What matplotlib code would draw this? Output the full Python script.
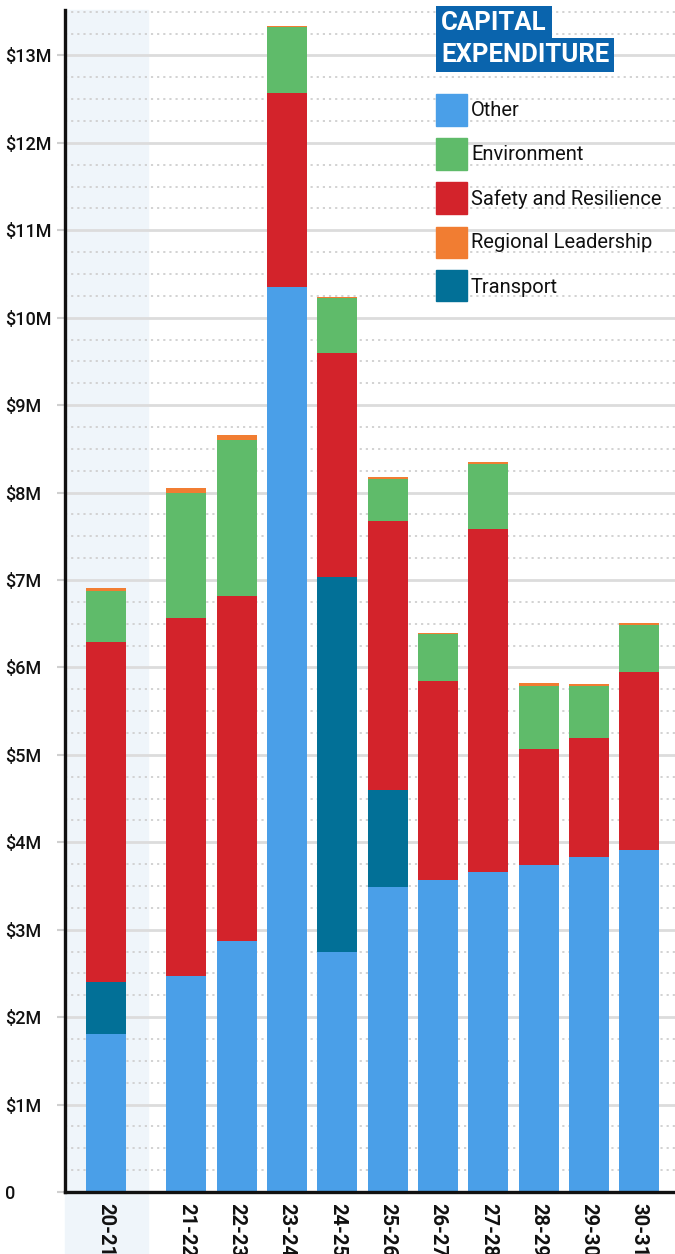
import numpy as np
import matplotlib
matplotlib.use("Agg")
import matplotlib.pyplot as plt
from matplotlib.patches import Rectangle
from matplotlib.transforms import blended_transform_factory

# values in $M, stacked bottom to top: other, transport, safety, environment, regional
years = ["20-21", "21-22", "22-23", "23-24", "24-25", "25-26",
         "26-27", "27-28", "28-29", "29-30", "30-31"]
other = [1.81, 2.47, 2.87, 10.35, 2.74, 3.49, 3.57, 3.66, 3.74, 3.83, 3.91]
transport = [0.59, 0, 0, 0, 4.29, 1.11, 0, 0, 0, 0, 0]
safety = [3.89, 4.09, 3.95, 2.22, 2.57, 3.07, 2.28, 3.92, 1.33, 1.36, 2.04]
environment = [0.58, 1.43, 1.78, 0.75, 0.63, 0.48, 0.53, 0.75, 0.72, 0.60, 0.54]
regional = [0.035, 0.057, 0.057, 0.015, 0.008, 0.023, 0.015, 0.023, 0.03, 0.02, 0.023]

series = [("Other", other, "#4a9fe8"),
          ("Transport", transport, "#027097"),
          ("Safety and Resilience", safety, "#d3232b"),
          ("Environment", environment, "#5fbb6a"),
          ("Regional Leadership", regional, "#f17d32")]
legend_order = ["Other", "Environment", "Safety and Resilience",
                "Regional Leadership", "Transport"]

plt.rcParams["font.family"] = ["Roboto", "DejaVu Sans"]

W, H = 675, 1254
fig = plt.figure(figsize=(W / 100, H / 100), dpi=100)
ax = fig.add_axes([65 / W, (H - 1192) / H, 1 - 65 / W, (1192 - 10) / H])

# first year sits apart from the rest
x = np.r_[0.0, np.arange(1, len(years)) + 0.6]

# highlighted column for 20-21, running down through the tick labels
tr = blended_transform_factory(ax.transData, ax.transAxes)
ax.add_patch(Rectangle((-0.82, -0.06), 1.66, 1.06, transform=tr,
                       color="#eff5fa", zorder=0, clip_on=False))

bottom = np.zeros(len(years))
for name, vals, col in series:
    vals = np.array(vals)
    ax.bar(x, vals, width=0.795, bottom=bottom, color=col, zorder=3, linewidth=0)
    bottom += vals

ax.set_xlim(-0.815, 11.31)
ax.set_ylim(0, 13.52)

# grid: solid every $1M, dotted every $0.25M
ax.set_yticks(np.arange(0, 14))
ax.set_yticks(np.arange(0, 13.6, 0.25), minor=True)
ax.grid(axis="y", which="major", color="#dcdcdc", linewidth=2, zorder=1)
ax.grid(axis="y", which="minor", color="#cfcfcf", linewidth=1.3,
        linestyle=(0, (1.2, 2.2)), zorder=1)
ax.set_axisbelow(True)

ax.set_yticklabels(["0"] + [f"${v}M" for v in range(1, 14)])
ax.tick_params(axis="y", which="major", length=6, width=1.5, color="#d0d0d0",
               pad=37.4, labelsize=13, labelcolor="#111111")
ax.tick_params(axis="y", which="minor", length=0)
for lab in ax.get_yticklabels():
    lab.set_horizontalalignment("left")
    lab.set_fontweight("medium")

ax.set_xticks(x)
ax.set_xticklabels(years, rotation=-90, va="top", ha="center",
                   fontsize=14.5, fontweight="bold", color="#111111")
ax.tick_params(axis="x", length=0, pad=8)

for s in ["top", "right"]:
    ax.spines[s].set_visible(False)
for s in ["left", "bottom"]:
    ax.spines[s].set_linewidth(2.4)
    ax.spines[s].set_color("#111111")
    ax.spines[s].set_zorder(4)

# title blocks
fig.text(441 / W, 1 - 23 / H, "CAPITAL", fontsize=18.5, fontweight="bold",
         color="white", va="center", ha="left",
         bbox=dict(boxstyle="square,pad=0.2", fc="#0a64ad", ec="none"))
fig.text(441 / W, 1 - 55 / H, "EXPENDITURE", fontsize=18.5, fontweight="bold",
         color="white", va="center", ha="left",
         bbox=dict(boxstyle="square,pad=0.2", fc="#0a64ad", ec="none"))

# legend
colors = {name: col for name, _, col in series}
for i, name in enumerate(legend_order):
    yc = 110 + 44 * i
    fig.add_artist(Rectangle((436 / W, 1 - (yc + 15.5) / H), 31 / W, 31 / H,
                             transform=fig.transFigure, color=colors[name]))
    fig.text(471 / W, 1 - (yc + 1) / H, name, fontsize=14.5, color="#111111",
             va="center", ha="left")

fig.savefig("out.png", dpi=100)
